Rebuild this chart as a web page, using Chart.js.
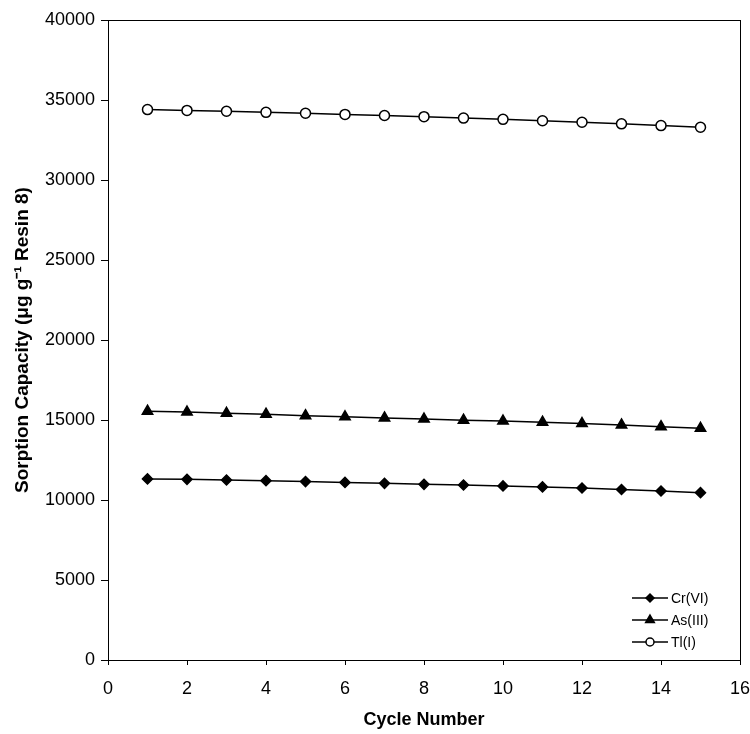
<!DOCTYPE html>
<html>
<head>
<meta charset="utf-8">
<script src="https://cdn.jsdelivr.net/npm/chart.js@4"></script>
<style>
  body { margin: 0; background: #fff; }
  #wrap { width: 750px; height: 734px; }
</style>
</head>
<body>
<div id="wrap"><canvas id="myChart"></canvas></div>
<script>
const cycles = [1, 2, 3, 4, 5, 6, 7, 8, 9, 10, 11, 12, 13, 14, 15];
const crVI = [11320, 11290, 11250, 11210, 11150, 11100, 11040, 10980, 10940, 10880, 10820, 10750, 10660, 10560, 10460];
const asIII = [15550, 15500, 15420, 15360, 15270, 15200, 15130, 15060, 14990, 14930, 14860, 14780, 14690, 14580, 14480];
const tlI = [34400, 34350, 34300, 34230, 34170, 34100, 34030, 33960, 33870, 33790, 33700, 33610, 33510, 33400, 33300];
const seriesNames = ['Cr(VI)', 'As(III)', 'Tl(I)'];

function toPoints(vals) {
    return cycles.map((c, i) => ({ x: c, y: vals[i] }));
}

// frame around plot + legend with line-marker-line samples
const framePlugin = {
    id: 'frame',
    afterDraw(chart) {
        const ctx = chart.ctx;
        const a = chart.chartArea;
        ctx.save();
        ctx.strokeStyle = '#000';
        ctx.lineWidth = 1;
        ctx.strokeRect(Math.round(a.left) + 0.5, Math.round(a.top) + 0.5, Math.round(a.right - a.left), Math.round(a.bottom - a.top));

        let y = a.bottom - 62;
        const x0 = a.right - 108;
        ctx.font = '14px "Liberation Sans", Arial, sans-serif';
        ctx.textBaseline = 'middle';
        chart.data.datasets.forEach((ds) => {
            ctx.strokeStyle = '#000';
            ctx.lineWidth = 1.5;
            ctx.beginPath();
            ctx.moveTo(x0, y);
            ctx.lineTo(x0 + 36, y);
            ctx.stroke();
            ctx.fillStyle = ds.pointBackgroundColor;
            Chart.helpers.drawPoint(ctx, {
                pointStyle: ds.pointStyle,
                radius: ds.pointRadius - 1,
                borderWidth: 1.5
            }, x0 + 18, y);
            ctx.fillStyle = '#000';
            ctx.fillText(ds.label, x0 + 39, y + 1);
            y += 22;
        });
        ctx.restore();
    }
};

function makeSet(label, vals, style, radius, fill) {
    return {
        label: label,
        data: toPoints(vals),
        borderColor: '#000',
        borderWidth: 1.5,
        pointStyle: style,
        pointRadius: radius,
        pointBackgroundColor: fill,
        pointBorderColor: '#000',
        pointBorderWidth: 1.5,
        backgroundColor: fill,
        tension: 0
    };
}

const tickFont = { family: '"Liberation Sans", Arial, sans-serif', size: 18 };
const titleFont = { family: '"Liberation Sans", Arial, sans-serif', size: 18, weight: 'bold' };

const ctx = document.getElementById('myChart').getContext('2d');
const myChart = new Chart(ctx, {
    type: 'line',
    data: {
        datasets: [
            makeSet(seriesNames[0], crVI, 'rectRot', 5, '#000'),
            makeSet(seriesNames[1], asIII, 'triangle', 6, '#000'),
            makeSet(seriesNames[2], tlI, 'circle', 5, '#fff')
        ]
    },
    plugins: [framePlugin],
    options: {
        responsive: true,
        maintainAspectRatio: false,
        animation: false,
        layout: { padding: { top: 20, right: 10, left: 9, bottom: 0 } },
        plugins: {
            legend: { display: false },
            tooltip: { enabled: false }
        },
        scales: {
            x: {
                type: 'linear',
                min: 0,
                max: 16,
                afterFit: (scale) => {
                    scale.paddingLeft = 0;
                    scale.paddingRight = 0;
                    scale.height = 74;
                },
                ticks: {
                    stepSize: 2,
                    color: '#000',
                    padding: 13,
                    font: tickFont
                },
                grid: { drawOnChartArea: false, drawTicks: true, tickLength: 5, color: '#000' },
                border: { color: '#000', width: 1 },
                title: {
                    display: true,
                    text: 'Cycle Number',
                    color: '#000',
                    padding: { top: 9, bottom: 3 },
                    font: titleFont
                }
            },
            y: {
                min: 0,
                max: 40000,
                afterFit: (scale) => {
                    scale.paddingTop = 0;
                    scale.paddingBottom = 0;
                    scale.width = 99;
                },
                ticks: {
                    stepSize: 5000,
                    color: '#000',
                    padding: 6,
                    callback: (v) => String(v),
                    font: tickFont
                },
                grid: { drawOnChartArea: false, drawTicks: true, tickLength: 7, color: '#000' },
                border: { color: '#000', width: 1 },
                title: {
                    display: true,
                    text: 'Sorption Capacity (μg g⁻¹ Resin 8)',
                    color: '#000',
                    padding: { top: 2, bottom: 6 },
                    font: { family: '"Liberation Sans", Arial, sans-serif', size: 19, weight: 'bold' }
                }
            }
        }
    }
});
</script>
</body>
</html>
